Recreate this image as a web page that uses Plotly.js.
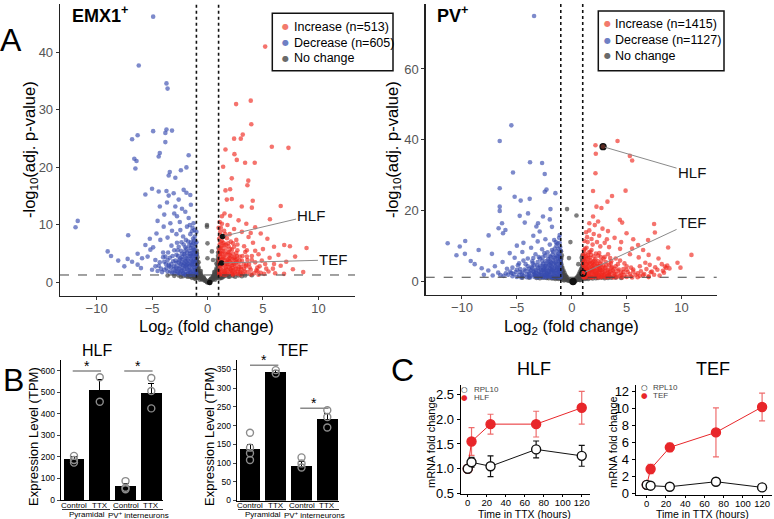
<!DOCTYPE html>
<html><head><meta charset="utf-8">
<script src="https://cdn.plot.ly/plotly-3.0.1.min.js"></script>
<style>html,body{margin:0;padding:0;background:#fff;}#chart{width:774px;height:519px;}</style>
</head><body><div id="chart"></div>
<script>
// ---------- Panel A: volcano data [log2 fold change, -log10 adj p] ----------
const emxDown = [[-4.9,46.2],[-6.2,37.7],[-3.7,34.6],[-3.6,33.7],[-6.3,25.6],[-6.8,24.9],[-4.9,26.3],[-3.7,26.6],[-3.8,26.0],[-3.2,26.4],[-3.8,24.4],[-4.3,22.5],[-4.4,21.9],[-6.6,21.5],[-6.4,21.1],[-6.5,19.8],[-1.7,22.1],[-1.9,20.0],[-2.4,19.5],[-3.4,19.2],[-3.5,18.6],[-2.9,18.2],[-5.0,16.3],[-5.6,15.3],[-4.4,15.8],[-3.7,15.9],[-3.5,15.1],[-3.05,15.5],[-2.15,16.1],[-1.55,15.2],[-1.9,15.6],[-2.6,14.4],[-3.65,13.9],[-4.3,13.2],[-2.9,13.2],[-2.0,12.3],[-2.75,11.5],[-1.7,11.2],[-4.5,10.7],[-3.35,10.3],[-1.26,10.3],[-11.7,10.7],[-11.9,9.6],[-3.95,9.7],[-1.85,9.7],[-2.45,9.1],[-1.4,8.9],[-1.17,9.1],[-7.15,8.2],[-5.2,7.6],[-4.25,7.4],[-5.15,5.7],[-9.0,5.4],[-8.7,4.6],[-8.05,3.8],[-7.2,4.1],[-6.8,3.6],[-6.3,5.0],[-6.3,3.1],[-5.9,4.2],[-4.7,3.9],
[-3.0,12.0],[-2.3,12.8],[-1.5,13.5],[-3.9,11.8],[-2.5,10.5],[-1.6,10.0],[-3.2,9.0],[-2.8,8.4],[-4.6,8.5],[-5.6,6.5],[-4.9,6.1],[-3.6,7.8],[-2.2,8.0],[-1.3,7.6],[-5.4,4.5],[-4.0,5.2],[-7.5,2.8],[-6.0,2.5],[-5.0,2.2],[-4.4,2.9],[-3.8,4.5],
[-1.0,1.5],[-1.1,2.2],[-1.0,3.0],[-1.05,4.1],[-1.0,5.0],[-1.1,6.2],[-1.0,7.0],[-1.2,1.8],[-1.25,2.7],[-1.2,3.6],[-1.3,4.6],[-1.25,5.6],[-1.3,6.8],[-1.4,1.4],[-1.45,2.3],[-1.4,3.2],[-1.5,4.0],[-1.45,5.1],[-1.5,6.0],[-1.6,1.7],[-1.65,2.8],[-1.6,3.7],[-1.7,4.6],[-1.65,5.5],[-1.75,7.1],[-1.8,1.5],[-1.85,2.4],[-1.8,3.3],[-1.9,4.2],[-1.9,5.9],[-2.0,1.9],[-2.05,2.9],[-2.0,3.8],[-2.1,4.9],[-2.15,6.6],[-2.2,1.5],[-2.25,2.5],[-2.3,3.5],[-2.3,4.4],[-2.4,5.5],[-2.4,1.9],[-2.5,2.9],[-2.55,3.9],[-2.6,6.2],[-2.65,1.6],[-2.7,2.4],[-2.8,3.4],[-2.8,4.8],[-2.9,2.0],[-3.0,2.8],[-3.0,5.6],[-3.1,3.7],[-3.2,1.7],[-3.3,2.6],[-3.4,4.3],[-3.5,3.1],[-3.6,1.9],[-3.7,2.5],[-3.9,3.6],[-4.1,1.8],[-4.2,2.4],[-1.15,8.0],[-1.35,9.5],[-1.55,8.4],[-1.95,7.4],[-2.35,7.0],[-2.75,6.9],[-3.25,6.4],[-1.0,8.8],[-1.1,1.35],[-1.55,1.35],[-2.0,1.35],[-1.2,4.0],[-1.35,3.0],[-1.7,2.1],[-2.1,3.3],[-1.55,4.6],[-1.9,3.0],[-1.3,5.2],
[-1.05,1.8],[-1.1,3.5],[-1.05,4.6],[-1.15,5.6],[-1.1,6.7],[-1.2,7.3],[-1.15,2.6],[-1.3,2.0],[-1.35,3.7],[-1.3,5.9],[-1.4,4.4],[-1.45,6.5],[-1.5,1.7],[-1.55,3.0],[-1.6,5.0],[-1.65,6.4],[-1.7,3.3],[-1.75,1.5],[-1.8,4.0],[-1.85,5.2],[-1.9,2.7],[-1.95,3.6],[-2.0,4.6],[-2.05,5.4],[-2.1,2.3],[-2.15,1.6],[-2.2,3.0],[-2.25,4.0],[-2.3,5.0],[-2.35,2.1],[-2.4,3.2],[-2.45,4.2],[-2.5,1.6],[-2.55,2.4],[-2.6,3.5],[-2.65,4.6],[-2.7,5.6],[-2.75,1.9],[-2.85,2.7],[-2.9,3.8],[-3.0,1.6],[-3.05,2.3],[-3.15,4.6],[-3.25,3.2],[-3.35,1.9],[-3.45,2.8],[-3.55,5.2],[-3.6,3.9],[-3.75,3.2],[-3.9,2.2],[-4.0,4.4],[-4.3,3.5],[-4.5,2.0],[-4.7,2.8],[-1.2,4.9],[-1.6,2.2],[-2.0,6.1],[-1.3,3.4],[-1.5,7.0],[-1.25,1.5]];
const emxUp = [[5.2,41.0],[2.58,31.0],[3.9,31.6],[3.95,27.5],[3.18,25.7],[2.4,25.0],[3.0,25.0],[5.8,23.6],[7.3,23.4],[1.62,23.1],[2.43,22.3],[2.64,21.3],[3.39,20.8],[4.26,20.8],[1.41,20.1],[2.19,18.1],[3.68,17.7],[3.6,16.9],[1.62,16.0],[2.04,16.2],[1.74,14.4],[2.19,14.5],[4.08,14.2],[3.09,13.2],[4.0,13.0],[6.6,13.3],[1.53,12.0],[2.04,11.6],[5.63,11.0],[8.93,6.0],[7.43,6.3],[6.92,6.5],[7.9,4.5],[8.63,1.8],
[1.3,11.5],[2.8,10.8],[3.5,10.2],[4.3,9.6],[1.8,10.0],[2.4,9.3],[3.1,8.8],[4.8,8.5],[5.4,7.6],[1.5,9.0],[2.0,8.4],[3.7,7.9],[2.6,7.4],[4.1,6.9],[6.0,6.2],[5.0,5.8],[6.4,4.8],[5.6,4.3],[4.6,4.9],[7.1,3.6],[6.6,2.9],[5.9,2.4],[5.2,3.2],[4.4,2.1],[7.7,2.3],
[1.05,1.5],[1.1,2.4],[1.05,3.3],[1.1,4.4],[1.05,5.4],[1.1,6.6],[1.05,7.6],[1.2,1.8],[1.25,2.9],[1.2,3.9],[1.3,4.9],[1.25,6.0],[1.3,7.2],[1.4,1.4],[1.45,2.3],[1.4,3.4],[1.5,4.3],[1.45,5.4],[1.5,6.5],[1.6,1.7],[1.65,2.7],[1.6,3.8],[1.7,4.8],[1.65,5.9],[1.75,7.7],[1.8,1.5],[1.85,2.2],[1.8,3.2],[1.9,4.1],[1.95,5.2],[1.9,6.3],[2.0,1.9],[2.05,2.9],[2.0,3.7],[2.1,4.6],[2.2,5.7],[2.2,1.5],[2.25,2.5],[2.3,3.4],[2.35,4.2],[2.4,6.2],[2.45,1.8],[2.5,2.8],[2.55,3.9],[2.6,5.1],[2.7,1.5],[2.75,2.3],[2.8,3.3],[2.9,4.5],[2.95,1.9],[3.0,2.7],[3.1,3.8],[3.2,1.6],[3.3,2.4],[3.4,5.3],[3.5,3.1],[3.6,1.8],[3.8,2.6],[4.0,3.9],[4.2,1.6],[4.5,2.6],[4.8,1.7],[5.1,1.5],[5.5,1.9],[6.1,1.6],[6.9,1.5],[1.15,8.8],[1.3,10.2],[1.6,8.4],[2.1,7.1],[2.7,6.6],[3.3,6.3],[1.0,9.5],[1.1,1.35],[1.6,1.35],[2.3,1.35],[3.0,1.35],[3.9,1.4],[4.6,1.35],[1.35,5.5],[1.55,2.0],[1.75,3.5],[2.15,2.1],[2.65,4.0],[3.55,4.5],[4.3,5.5],[3.9,8.6],[1.2,3.0],[1.35,4.1],[1.7,2.3],[2.0,4.3],[1.15,5.1],
[1.05,1.9],[1.1,2.9],[1.05,4.0],[1.15,4.9],[1.1,5.9],[1.2,7.0],[1.15,8.2],[1.25,2.2],[1.3,3.5],[1.3,6.3],[1.4,4.4],[1.45,6.9],[1.5,1.7],[1.55,3.0],[1.6,5.0],[1.65,6.6],[1.7,3.3],[1.75,1.5],[1.8,4.0],[1.85,5.3],[1.9,2.7],[1.95,3.6],[2.0,4.8],[2.05,5.8],[2.1,2.3],[2.15,1.6],[2.2,3.0],[2.25,4.0],[2.3,5.0],[2.35,2.1],[2.4,3.2],[2.45,4.4],[2.5,1.6],[2.55,2.4],[2.6,3.5],[2.65,4.6],[2.7,5.6],[2.75,1.9],[2.85,2.7],[2.9,3.8],[3.0,1.6],[3.05,2.3],[3.15,4.6],[3.25,3.2],[3.35,1.9],[3.45,2.8],[3.55,5.6],[3.6,3.9],[3.75,3.2],[3.9,2.2],[4.0,4.6],[4.3,3.5],[4.5,2.0],[4.7,2.8],[1.2,9.5],[1.45,8.0],[1.85,6.8],[2.3,6.8],[1.1,10.5],[5.3,2.4],[6.0,3.2],[4.9,3.8],[1.35,1.5],[1.15,3.4]];
const emxNone = [[0,0.1],[0.1,0.2],[-0.1,0.2],[0.2,0.4],[-0.2,0.4],[0.3,0.3],[-0.3,0.5],[0.35,0.7],[-0.35,0.8],[0.4,0.5],[-0.45,0.6],[0.5,1.0],[-0.5,1.1],[0.55,0.6],[-0.55,0.7],[0.6,1.4],[-0.6,1.5],[0.65,0.9],[-0.65,1.0],[0.7,1.9],[-0.7,2.0],[0.75,1.2],[-0.75,1.3],[0.8,2.4],[-0.8,2.6],[0.85,1.6],[-0.85,1.7],[0.9,3.0],[-0.9,3.2],[0.95,2.1],[-0.95,2.3],[0.98,3.8],[-0.98,4.0],[0.9,0.9],[-0.9,0.9],[0.95,4.6],[-0.95,5.0],[-0.05,10.0],[-0.05,9.7],[0.0,6.8],[0.4,5.4],[0.0,4.2],[0.5,3.9],[0.9,4.0],[-0.9,4.4],[-0.8,3.5],[0.8,3.3],[-1.0,0.8],
[-1.2,1.0],[-1.5,1.1],[-1.8,1.0],[-2.2,1.1],[-2.6,1.2],[-3.0,1.15],[-1.4,0.8],[-1.1,0.6],[1.2,1.0],[1.5,1.1],[1.9,1.0],[2.3,1.15],[2.8,1.2],[3.4,1.2],[1.3,0.8],[1.1,0.7],[4.0,1.25],[-3.6,1.2],
[0.05,0.0],[0.15,0.1],[-0.05,0.05],[0.25,0.2],[-0.25,0.3],[0.3,0.6],[-0.3,0.7],[0.45,0.8],[-0.4,0.9],[0.5,0.5],[-0.5,0.5],[0.55,1.2],[-0.6,1.3],[0.6,0.8],[-0.65,0.8],[0.7,1.6],[-0.7,1.7],[0.75,0.9],[-0.75,1.0],[0.8,1.3],[-0.8,1.4],[0.85,2.2],[-0.85,2.4],[0.9,1.8],[-0.9,1.9],[0.95,2.7],[-0.95,2.9],[0.98,1.5],[-0.98,1.6],[0.92,3.4],[-0.92,3.7],[0.99,1.1],[-0.99,1.2],[0.7,0.5],[-0.7,0.5],[0.85,0.8],[-0.85,0.8],[0.6,1.8],[-0.6,2.0],[0.96,5.2],[-0.96,5.5],[0.99,6.0],
[-1.1,1.0],[-1.3,1.15],[-1.6,1.0],[-1.9,1.15],[-2.4,1.0],[-1.2,0.8],[-1.0,1.2],[1.0,1.2],[1.15,1.15],[1.4,1.0],[1.7,1.2],[2.0,1.05],[2.5,1.0],[1.2,0.85],[3.1,1.1]];
const pvDown = [[-3.43,74.9],[-5.5,44.1],[-6.56,39.7],[-3.8,33.7],[-2.7,33.5],[-5.35,30.8],[-2.46,30.4],[-6.56,26.4],[-2.46,25.4],[-2.3,26.0],[-5.2,24.0],[-4.65,22.9],[-3.83,23.4],[-6.56,21.2],[-6.56,20.0],[-1.49,25.0],[-1.94,20.5],[-11.3,10.9],[-10.2,9.95],[-9.7,11.5],[-10.5,7.5],[-9.73,7.9],[-9.2,5.9],[-8.84,5.0],[-8.48,9.0],[-8.2,3.85],[-7.57,13.1],[-7.27,7.9],[-6.66,15.1],[-6.35,16.5],[-6.26,13.7],[-6.04,14.6],[-5.65,8.1],[-4.74,18.6],[-4.28,16.7],[-3.98,19.3],[-3.07,16.5],[-3.22,15.6],[-2.92,14.2],[-2.62,18.4],[-1.1,13.2],
[-2.0,17.6],[-1.8,15.5],[-3.5,13.0],[-2.4,12.0],[-1.6,11.8],[-4.4,11.0],[-3.1,11.4],[-2.0,10.5],[-5.0,10.2],[-1.3,10.8],[-3.7,9.6],[-2.7,9.2],[-4.5,8.4],[-5.2,6.8],[-6.3,5.6],[-7.0,4.4],[-7.6,3.2],[-6.7,2.6],[-5.9,3.7],[-5.5,2.5],[-4.9,4.7],[-8.0,2.0],[-7.2,1.8],
[-1.0,1.4],[-1.05,2.3],[-1.0,3.2],[-1.1,4.2],[-1.0,5.3],[-1.05,6.4],[-1.1,7.6],[-1.0,8.7],[-1.05,9.8],[-1.1,11.0],[-1.2,1.8],[-1.25,2.8],[-1.2,3.8],[-1.3,4.9],[-1.25,6.0],[-1.3,7.2],[-1.35,8.6],[-1.4,1.4],[-1.45,2.4],[-1.4,3.3],[-1.5,4.4],[-1.45,5.5],[-1.5,6.8],[-1.55,9.4],[-1.6,1.8],[-1.65,2.9],[-1.6,3.9],[-1.7,5.0],[-1.7,6.1],[-1.75,7.8],[-1.8,1.4],[-1.85,2.4],[-1.8,3.4],[-1.9,4.5],[-1.95,5.7],[-1.9,7.0],[-2.0,1.9],[-2.05,2.9],[-2.0,3.9],[-2.1,5.1],[-2.15,6.4],[-2.2,8.3],[-2.2,1.5],[-2.25,2.4],[-2.3,3.4],[-2.35,4.5],[-2.4,5.8],[-2.45,1.9],[-2.5,2.9],[-2.55,3.9],[-2.6,5.1],[-2.65,6.9],[-2.7,1.5],[-2.75,2.4],[-2.8,3.4],[-2.85,4.6],[-2.95,1.9],[-3.0,2.9],[-3.05,4.0],[-3.1,5.6],[-3.2,1.6],[-3.25,2.5],[-3.3,3.5],[-3.4,4.8],[-3.5,2.0],[-3.55,3.0],[-3.65,4.2],[-3.8,1.6],[-3.85,2.6],[-3.9,3.7],[-4.1,2.1],[-4.2,3.1],[-4.4,1.6],[-4.5,2.6],[-4.7,3.6],[-4.8,1.9],[-5.1,2.8],[-5.4,1.6],[-5.8,2.0],[-6.2,1.7],[-1.15,12.4],[-1.4,10.2],[-1.8,9.0],[-2.4,7.4],[-2.9,6.6],[-3.6,5.8],[-4.2,5.0],[-4.0,6.6],[-3.3,7.8],[-1.2,1.25],[-1.7,1.25],[-2.4,1.25],[-3.1,1.25],[-3.8,1.25],[-4.6,1.25],[-1.15,3.0],[-1.35,4.0],[-1.6,2.4],[-1.9,3.2],[-2.2,2.0],[-2.6,3.4],[-3.4,2.2],
[-1.05,1.8],[-1.1,3.5],[-1.05,4.8],[-1.15,5.8],[-1.1,7.0],[-1.2,8.0],[-1.15,2.6],[-1.3,2.0],[-1.35,3.7],[-1.3,6.5],[-1.4,5.0],[-1.45,7.5],[-1.5,1.7],[-1.55,3.0],[-1.6,5.5],[-1.65,6.8],[-1.7,3.4],[-1.75,1.5],[-1.8,4.2],[-1.85,5.3],[-1.9,2.7],[-1.95,3.7],[-2.0,4.8],[-2.05,6.0],[-2.1,2.3],[-2.15,1.6],[-2.2,3.0],[-2.25,4.0],[-2.3,5.2],[-2.35,2.1],[-2.4,3.2],[-2.45,4.4],[-2.5,1.6],[-2.55,2.4],[-2.6,3.5],[-2.65,4.6],[-2.7,5.9],[-2.75,1.9],[-2.85,2.7],[-2.9,3.8],[-3.0,1.6],[-3.05,2.3],[-3.15,4.6],[-3.25,3.2],[-3.35,1.9],[-3.45,2.8],[-3.55,5.2],[-3.6,3.9],[-3.75,3.2],[-3.9,2.2],[-4.0,4.4],[-4.3,3.5],[-4.5,2.0],[-4.7,2.8],[-5.0,3.4],[-5.3,2.2],[-5.6,2.9],[-6.0,2.4],[-6.5,1.9],[-1.2,9.3],[-1.45,11.2],[-1.7,8.5],[-2.0,7.2],[-2.5,8.1],[-3.0,7.0],[-3.5,6.7],[-4.4,6.0],[-4.8,5.2],[-5.4,4.0],[-1.1,1.3],[-1.9,1.3],[-2.7,1.3],[-3.4,1.4],[-4.1,1.3],[-5.0,1.4]];
const pvUp = [[4.17,39.7],[2.16,38.5],[2.19,36.1],[5.29,35.5],[5.5,34.2],[2.16,30.6],[1.94,25.6],[4.9,25.7],[3.67,24.2],[2.7,20.8],[3.25,22.6],[2.25,21.2],[1.94,18.4],[4.38,17.5],[4.59,16.7],[7.5,16.3],[7.57,13.9],[4.99,13.7],[8.78,9.7],[10.9,7.6],[9.63,5.4],[8.48,4.3],[6.04,10.4],[6.95,11.8],
[2.8,15.0],[3.3,14.3],[2.1,16.0],[1.6,14.5],[3.9,12.4],[2.5,13.0],[1.8,12.1],[5.6,12.0],[4.5,11.2],[3.0,11.0],[6.5,9.0],[5.5,9.4],[7.0,7.6],[7.9,6.6],[8.2,5.0],[8.7,4.6],[8.9,3.8],[8.3,3.1],[7.6,4.1],[7.2,2.7],[6.7,5.4],[6.1,6.9],[5.3,7.8],[4.4,9.3],[3.4,9.8],[9.9,4.0],
[1.05,1.4],[1.1,2.3],[1.05,3.3],[1.1,4.3],[1.05,5.4],[1.1,6.5],[1.05,7.7],[1.1,8.9],[1.2,1.8],[1.25,2.8],[1.2,3.8],[1.3,4.9],[1.25,6.0],[1.3,7.2],[1.35,9.6],[1.4,1.4],[1.45,2.4],[1.4,3.3],[1.5,4.4],[1.45,5.5],[1.5,6.8],[1.55,8.3],[1.6,1.8],[1.65,2.9],[1.6,3.9],[1.7,5.0],[1.7,6.1],[1.75,7.6],[1.8,1.4],[1.85,2.4],[1.8,3.4],[1.9,4.5],[1.95,5.7],[1.9,10.5],[2.0,1.9],[2.05,2.9],[2.0,3.9],[2.1,5.1],[2.15,6.4],[2.2,8.0],[2.2,1.5],[2.25,2.4],[2.3,3.4],[2.35,4.5],[2.4,5.8],[2.45,1.9],[2.5,2.9],[2.55,3.9],[2.6,5.1],[2.65,7.0],[2.7,1.5],[2.75,2.4],[2.8,3.4],[2.85,4.6],[2.95,1.9],[3.0,2.9],[3.05,4.0],[3.1,5.6],[3.2,1.6],[3.25,2.5],[3.3,3.5],[3.4,4.8],[3.5,2.0],[3.55,3.0],[3.65,4.2],[3.8,1.6],[3.85,2.6],[3.9,3.7],[4.1,2.1],[4.2,3.1],[4.4,1.6],[4.5,2.6],[4.7,3.6],[4.8,1.9],[5.1,2.8],[5.4,1.6],[5.8,2.0],[6.2,1.7],[6.6,2.2],[7.0,1.6],[7.5,2.0],[8.0,1.8],[1.15,11.5],[1.4,12.6],[1.8,9.0],[2.4,7.4],[2.9,6.6],[3.6,5.8],[4.2,5.0],[4.0,6.6],[3.3,7.8],[5.0,4.4],[5.6,3.5],[6.3,3.0],[1.2,1.25],[1.7,1.25],[2.4,1.25],[3.1,1.25],[3.8,1.25],[4.6,1.25],[5.5,1.25],[1.3,14.0],[2.3,11.2],[1.15,3.0],[1.35,4.0],[1.6,2.4],[1.9,3.2],[2.2,2.0],[2.6,3.4],[3.4,2.2],
[1.05,1.8],[1.1,3.5],[1.05,4.8],[1.15,5.8],[1.1,7.0],[1.2,8.0],[1.15,2.6],[1.3,2.0],[1.35,3.7],[1.3,6.5],[1.4,5.0],[1.45,7.5],[1.5,1.7],[1.55,3.0],[1.6,5.5],[1.65,6.8],[1.7,3.4],[1.75,1.5],[1.8,4.2],[1.85,5.3],[1.9,2.7],[1.95,3.7],[2.0,4.8],[2.05,6.0],[2.1,2.3],[2.15,1.6],[2.2,3.0],[2.25,4.0],[2.3,5.2],[2.35,2.1],[2.4,3.2],[2.45,4.4],[2.5,1.6],[2.55,2.4],[2.6,3.5],[2.65,4.6],[2.7,5.9],[2.75,1.9],[2.85,2.7],[2.9,3.8],[3.0,1.6],[3.05,2.3],[3.15,4.6],[3.25,3.2],[3.35,1.9],[3.45,2.8],[3.55,5.2],[3.6,3.9],[3.75,3.2],[3.9,2.2],[4.0,4.4],[4.3,3.5],[4.5,2.0],[4.7,2.8],[5.0,3.4],[5.3,2.2],[5.6,2.9],[6.0,2.4],[6.5,1.9],[6.8,3.6],[7.3,2.9],[7.8,3.4],[8.4,2.6],[8.6,3.9],[7.1,4.8],[6.2,4.4],[1.2,9.3],[1.45,11.2],[1.7,8.5],[2.0,7.2],[2.5,8.1],[3.0,7.0],[3.5,6.7],[4.4,6.0],[4.8,5.2],[5.4,4.0],[2.0,13.5],[2.6,10.0],[3.2,12.0],[1.6,16.5],[2.4,17.0],[1.1,1.3],[1.9,1.3],[2.7,1.3],[3.4,1.4],[4.1,1.3],[5.0,1.4],[6.0,1.3],[7.0,1.35]];
const pvNone = [[0,0.1],[0.15,0.3],[-0.15,0.3],[0.25,0.6],[-0.25,0.7],[0.35,0.4],[-0.35,0.5],[0.4,1.0],[-0.4,1.2],[0.5,0.7],[-0.5,0.8],[0.55,1.6],[-0.55,1.8],[0.6,1.1],[-0.6,1.2],[0.65,2.2],[-0.65,2.5],[0.7,1.5],[-0.7,1.6],[0.75,2.9],[-0.75,3.2],[0.8,1.9],[-0.8,2.1],[0.85,3.6],[-0.85,4.0],[0.9,2.5],[-0.9,2.7],[0.95,4.5],[-0.95,5.0],[0.97,3.2],[-0.97,3.4],[0.98,5.8],[-0.98,6.4],[0.9,1.0],[-0.9,1.0],[-0.8,0.6],[0.8,0.6],[-0.9,7.5],[0.9,6.8],[-0.43,20.5],[0.43,18.7],[-0.12,11.2],[-0.25,6.7],[0.6,5.0],
[-1.3,1.0],[-1.7,1.1],[-2.1,1.0],[-2.6,1.15],[-3.2,1.1],[-1.5,0.8],[1.3,1.0],[1.7,1.1],[2.2,1.0],[2.7,1.15],[3.3,1.1],[4.0,1.2],[1.5,0.8],[-3.9,1.2],
[0.05,0.0],[0.2,0.1],[-0.1,0.1],[0.3,0.2],[-0.3,0.3],[0.45,0.5],[-0.45,0.5],[0.5,1.3],[-0.5,1.4],[0.6,0.6],[-0.6,0.7],[0.65,1.8],[-0.65,2.0],[0.7,1.0],[-0.75,1.1],[0.8,2.6],[-0.8,2.9],[0.85,1.4],[-0.85,1.5],[0.9,3.4],[-0.9,3.8],[0.93,2.1],[-0.93,2.2],[0.96,4.0],[-0.96,4.4],[0.98,2.8],[-0.98,3.0],[0.99,5.0],[-0.99,5.6],[0.95,6.0],[-0.95,6.8],[0.99,1.6],[-0.99,1.7],[0.75,0.5],[-0.7,0.4],[0.97,7.5],[-0.98,8.6],
[-1.1,1.0],[-1.4,1.15],[-1.8,0.95],[-2.3,1.1],[-2.9,1.0],[-1.2,0.8],[1.1,1.0],[1.4,1.15],[1.9,0.95],[2.4,1.1],[3.0,1.0],[1.2,0.8],[3.6,1.15],[4.5,1.1],[-4.5,1.15]];
// highlighted genes [x, y]: HLF, TEF ; plus minimum point
const emxMarked = [[1.35,8.0],[1.26,3.4],[0.2,0.0]];
const pvMarked  = [[2.85,38.1],[1.03,2.45],[0.12,0.1]];
const volcanoLegend = [["Increase (n=513)","Decrease (n=605)","No change"],["Increase (n=1415)","Decrease (n=1127)","No change"]];
const fcThresh = [-1, 1];
const pThresh = 1.3;

// ---------- Panel B: expression (TPM) ----------
const barCats  = ['Control','TTX','Control','TTX'];
const barGroups = ['Pyramidal','PV<sup>+</sup> interneurons'];
const hlfMean = [191, 513, 65, 499];
const hlfErr  = [10, 48, 12, 41];
const hlfPts  = [[205,186,174],[571,457],[88,57,50],[567,507,426]];
const tefMean = [137, 342, 93, 217];
const tefErr  = [13, 4, 10, 14];
const tefPts  = [[181,141,126,108],[348,339],[115,99,88],[241,223,195]];

// ---------- Panel C: qPCR time course ----------
const timeH = [0, 4, 24, 72, 120];
const cHlfRpl = [1.0, 1.13, 1.05, 1.39, 1.26];
const cHlfRplErr = [0, 0.1, 0.21, 0.17, 0.21];
const cHlf = [1.0, 1.55, 1.9, 1.9, 2.23];
const cHlfErr = [0, 0.28, 0.2, 0.26, 0.33];
const cTefRpl = [1.0, 0.9, 0.78, 1.37, 0.7];
const cTefRplErr = [0, 0.3, 0.2, 0.4, 0.3];
const cTef = [1.0, 2.87, 5.43, 7.2, 10.2];
const cTefErr = [0, 0.55, 0.5, 2.9, 1.65];

// ---------- layout helpers ----------
const W = 774, H = 519;
const FONT = 'Liberation Sans, Arial, sans-serif';
const NARROW = 'Liberation Sans Narrow, Liberation Sans, Arial, sans-serif';
const xd = (a,b) => [a/W, b/W];
const yd = (top,bot) => [1-bot/H, 1-top/H];
const px = v => v/W, py = v => 1 - v/H;

const RED = 'rgba(240,40,30,0.65)', BLUE = 'rgba(55,75,175,0.65)', GREY = 'rgba(70,70,70,0.7)';
const LRED = '#f27a6c', LBLUE = '#6f7fc4', LGREY = '#6a6a6a';

const traces = [];
function vol(pts, color, xa, ya){
  traces.push({type:'scatter', mode:'markers', x:pts.map(p=>p[0]), y:pts.map(p=>p[1]), xaxis:xa, yaxis:ya,
    marker:{size:4.6, color:color}, showlegend:false, hoverinfo:'skip'});
}
vol(emxNone, GREY, 'x', 'y'); vol(emxDown, BLUE, 'x','y'); vol(emxUp, RED, 'x','y');
vol(pvNone, GREY, 'x2', 'y2'); vol(pvDown, BLUE, 'x2','y2'); vol(pvUp, RED, 'x2','y2');
traces.push({type:'scatter', mode:'markers', x:emxMarked.map(p=>p[0]), y:emxMarked.map(p=>p[1]), xaxis:'x', yaxis:'y',
  marker:{size:5.5, color:'#111'}, showlegend:false});
traces.push({type:'scatter', mode:'markers', x:pvMarked.map(p=>p[0]), y:pvMarked.map(p=>p[1]), xaxis:'x2', yaxis:'y2',
  marker:{size:6, color:['#5a2a22','rgba(255,255,255,0)','#111'], line:{color:'#111', width:1.3}}, showlegend:false});

// B bars
const barX = [0,1,2,3];
function bars(mean, err, pts, xa, ya){
  traces.push({type:'bar', x:barX, y:mean, xaxis:xa, yaxis:ya, width:0.8, marker:{color:'#000'},
    error_y:{type:'data', array:err, color:'#000', thickness:1, width:3}, showlegend:false});
  const xs=[], ys=[];
  pts.forEach((g,i)=>g.forEach(v=>{xs.push(barX[i]); ys.push(v);}));
  traces.push({type:'scatter', mode:'markers', x:xs, y:ys, xaxis:xa, yaxis:ya,
    marker:{symbol:'circle-open', size:7, color:'#8c8c8c', line:{width:1.4}}, showlegend:false});
}
bars(hlfMean, hlfErr, hlfPts, 'x3', 'y3');
bars(tefMean, tefErr, tefPts, 'x4', 'y4');

// C lines
function course(vals, err, col, ecol, fill, xa, ya){
  traces.push({type:'scatter', mode:'lines+markers', x:timeH, y:vals, xaxis:xa, yaxis:ya,
    line:{color:col, width:1}, marker:{size:9, color:fill, line:{color:col, width:1.4}},
    error_y:{type:'data', array:err, color:ecol, thickness:1.2, width:3}, showlegend:false});
}
course(cHlf, cHlfErr, '#e8262a', 'rgba(232,60,60,0.75)', '#e8262a', 'x5', 'y5');
course(cHlfRpl, cHlfRplErr, '#111', '#111', '#fff', 'x5', 'y5');
course(cTef, cTefErr, '#e8262a', 'rgba(232,60,60,0.75)', '#e8262a', 'x6', 'y6');
course(cTefRpl, cTefRplErr, '#111', '#111', '#fff', 'x6', 'y6');

// axes
const vAx = {showgrid:false, zeroline:false, showline:true, linecolor:'#222', linewidth:1.3, ticks:'outside',
  ticklen:3, tickcolor:'#333', tickfont:{family:FONT, size:13, color:'#555'}, fixedrange:true};
const bAx = {showgrid:false, zeroline:false, showline:true, linecolor:'#000', linewidth:1, fixedrange:true};
const cAx = {showgrid:false, zeroline:false, showline:true, linecolor:'#000', linewidth:1, ticks:'outside',
  ticklen:3, tickcolor:'#000', fixedrange:true};
const cX = {tickvals:[0,20,40,60,80,100,120], tickangle:0, ticklen:2, ticklabelstandoff:-2, tickfont:{size:9.5}};

const layout = {
  width:W, height:H, margin:{l:0,r:0,t:0,b:0}, paper_bgcolor:'#fff', plot_bgcolor:'rgba(0,0,0,0)',
  font:{family:FONT, color:'#000'}, showlegend:false, bargap:0,
  xaxis: Object.assign({}, vAx, {domain:xd(60,355), range:[-13.3,13.3], tickvals:[-10,-5,0,5,10], ticklabelstandoff:-3, anchor:'y'}),
  yaxis: Object.assign({}, vAx, {domain:yd(4,295.7), range:[-2.3,48.4], tickvals:[0,10,20,30,40], anchor:'x'}),
  xaxis2: Object.assign({}, vAx, {domain:xd(425.7,716.7), range:[-13.3,13.2], tickvals:[-10,-5,0,5,10], ticklabelstandoff:-3, anchor:'y2'}),
  yaxis2: Object.assign({}, vAx, {domain:yd(4,295), range:[-3.7,78.3], tickvals:[0,20,40,60], anchor:'x2'}),
  xaxis3: Object.assign({}, bAx, {domain:xd(60.7,163), range:[-0.516,3.454], showticklabels:false, ticks:'', anchor:'y3'}),
  yaxis3: Object.assign({}, bAx, {domain:yd(360,500), range:[0,651], tickvals:[0,100,200,300,400,500,600], ticks:'outside', ticklen:3, tickfont:{family:NARROW, size:8.5}, anchor:'x3'}),
  xaxis4: Object.assign({}, bAx, {domain:xd(236.7,339), range:[-0.516,3.454], showticklabels:false, ticks:'', anchor:'y4'}),
  yaxis4: Object.assign({}, bAx, {domain:yd(360,500.5), range:[0,375], tickvals:[0,50,100,150,200,250,300,350], ticks:'outside', ticklen:3, tickfont:{family:NARROW, size:8.5}, anchor:'x4'}),
  xaxis5: Object.assign({}, cAx, cX, {domain:xd(460.7,590), range:[-7.4,128.7], anchor:'y5'}),
  yaxis5: Object.assign({}, cAx, {domain:yd(385,493.5), range:[0.5,2.69], tickvals:[0.5,1,1.5,2,2.5], tickformat:'.1f', tickfont:{size:13}, anchor:'x5'}),
  xaxis6: Object.assign({}, cAx, cX, {domain:xd(635.7,771.7), range:[-11.5,130], anchor:'y6'}),
  yaxis6: Object.assign({}, cAx, {domain:yd(385,495), range:[-0.2,12.8], tickvals:[0,2,4,6,8,10,12], tickfont:{size:13}, anchor:'x6'}),
  shapes: [], annotations: []
};

// threshold lines
[['x','y'],['x2','y2']].forEach(([xa,ya])=>{
  fcThresh.forEach(v=>layout.shapes.push({type:'line', xref:xa, yref:ya+' domain', x0:v, x1:v, y0:0, y1:1,
    line:{color:'#111', width:1.6, dash:'dot'}}));
  layout.shapes.push({type:'line', xref:xa+' domain', yref:ya, x0:0, x1:1, y0:pThresh, y1:pThresh,
    line:{color:'#444', width:1, dash:'dash'}});
});

const A = layout.annotations;
function txt(x, y, text, size, opts){
  A.push(Object.assign({xref:'paper', yref:'paper', x:px(x), y:py(y), text:text, showarrow:false,
    xanchor:'center', yanchor:'middle', font:{family:FONT, size:size, color:'#000'}}, opts||{}));
}
// panel letters
txt(11, 40, 'A', 32); txt(14, 380, 'B', 32); txt(403, 370, 'C', 32);
// volcano titles
txt(70, 14, '<b>EMX1<sup>+</sup></b>', 18, {xanchor:'left'});
txt(435, 14, '<b>PV<sup>+</sup></b>', 18, {xanchor:'left'});
txt(30, 150, '-log<sub>10</sub>(adj. p-value)', 16.5, {textangle:-90});
txt(393, 150, '-log<sub>10</sub>(adj. p-value)', 16.5, {textangle:-90});
txt(207, 326.5, 'Log<sub>2</sub> (fold change)', 16.5);
txt(571, 326.5, 'Log<sub>2</sub> (fold change)', 16.5);
// volcano legends (box + entries)
[[272.3,13.3,393,70.7,285.7,292.3,[26.7,42.7,58.3]],[598.3,11,724,70.7,607,613.3,[24,40,56]]].forEach((L,k)=>{
  layout.shapes.push({type:'rect', xref:'paper', yref:'paper', x0:px(L[0]), x1:px(L[2]), y0:py(L[3]), y1:py(L[1]),
    line:{color:'#111', width:1.5}, fillcolor:'#fff', layer:'above'});
  [LRED, LBLUE, LGREY].forEach((c,i)=>{
    txt(L[4], L[6][i], '●', 8, {font:{family:'DejaVu Sans', size:8, color:c}});
    txt(L[5], L[6][i], volcanoLegend[k][i], 12.5, {xanchor:'left'});
  });
});
// gene labels with leader lines
function gene(xa, ya, pt, label, ax, ay){
  A.push({xref:xa, yref:ya, x:pt[0], y:pt[1], text:label, showarrow:true, arrowhead:0, arrowwidth:1,
    arrowcolor:'#8a8a8a', ax:ax, ay:ay, standoff:2, font:{family:FONT, size:15, color:'#111'}});
}
gene('x','y', emxMarked[0], 'HLF', 89, -21);
gene('x','y', emxMarked[1], 'TEF', 112, -3);
gene('x2','y2', pvMarked[0], 'HLF', 89, 26);
gene('x2','y2', pvMarked[1], 'TEF', 109, -51);

// Panel B labels
txt(97, 350, 'HLF', 16); txt(293, 350, 'TEF', 16);
txt(33, 437, 'Expression Level (TPM)', 13, {textangle:-90, font:{family:NARROW, size:13, color:'#000'}});
txt(209, 437, 'Expression Level (TPM)', 13, {textangle:-90, font:{family:NARROW, size:13, color:'#000'}});
[['x3', 0], ['x4', 176]].forEach(([xa, off])=>{
  barCats.forEach((c,i)=>A.push({xref:xa, yref:'paper', x:barX[i], y:py(505), text:c, showarrow:false,
    yanchor:'middle', font:{family:NARROW, size:8, color:'#000'}}));
  txt(87+off, 514.5, barGroups[0], 8, {font:{family:NARROW, size:8, color:'#000'}});
  txt(138+off, 514.5, barGroups[1], 8, {font:{family:NARROW, size:8, color:'#000'}});
  layout.shapes.push({type:'line', xref:'paper', yref:'paper', x0:px(62+off), x1:px(110+off), y0:py(509.5), y1:py(509.5), line:{color:'#000', width:0.8}});
  layout.shapes.push({type:'line', xref:'paper', yref:'paper', x0:px(113+off), x1:px(163+off), y0:py(509.5), y1:py(509.5), line:{color:'#000', width:0.8}});
});
// significance bars
const sig = [['x3','y3',-0.05,1.05,600,30],['x3','y3',1.95,3.05,600,30],['x4','y4',0,1.1,361,18],['x4','y4',1.95,3.05,246,18]];
sig.forEach(s=>{
  layout.shapes.push({type:'line', xref:s[0], yref:s[1], x0:s[2], x1:s[3], y0:s[4], y1:s[4], line:{color:'#8a8a8a', width:1.5}});
  A.push({xref:s[0], yref:s[1], x:(s[2]+s[3])/2, y:s[4], text:'*', showarrow:false, yanchor:'bottom', yshift:-5,
    font:{family:FONT, size:14, color:'#000'}});
});

// Panel C labels
txt(534, 369, 'HLF', 18); txt(713, 369, 'TEF', 18);
txt(431, 442, 'mRNA fold change', 11, {textangle:-90});
txt(613, 442, 'mRNA fold change', 11, {textangle:-90});
txt(524, 513.5, 'Time in TTX (hours)', 10.5);
txt(702, 513.5, 'Time in TTX (hours)', 10.5);
const cLeg = [[465, 389, 397, 'HLF'], [644, 387, 395, 'TEF']];
cLeg.forEach(L=>{
  txt(L[0], L[1], '○', 7.5, {font:{family:'DejaVu Sans', size:7.5, color:'#111'}});
  txt(L[0]+7, L[1], 'RPL10', 8, {xanchor:'left', font:{family:FONT, size:8, color:'#444'}});
  txt(L[0], L[2], '●', 7.5, {font:{family:'DejaVu Sans', size:7.5, color:'#e8262a'}});
  txt(L[0]+7, L[2], L[3], 8, {xanchor:'left', font:{family:FONT, size:8, color:'#444'}});
});

Plotly.newPlot('chart', traces, layout, {staticPlot:true, displayModeBar:false});
</script></body></html>
